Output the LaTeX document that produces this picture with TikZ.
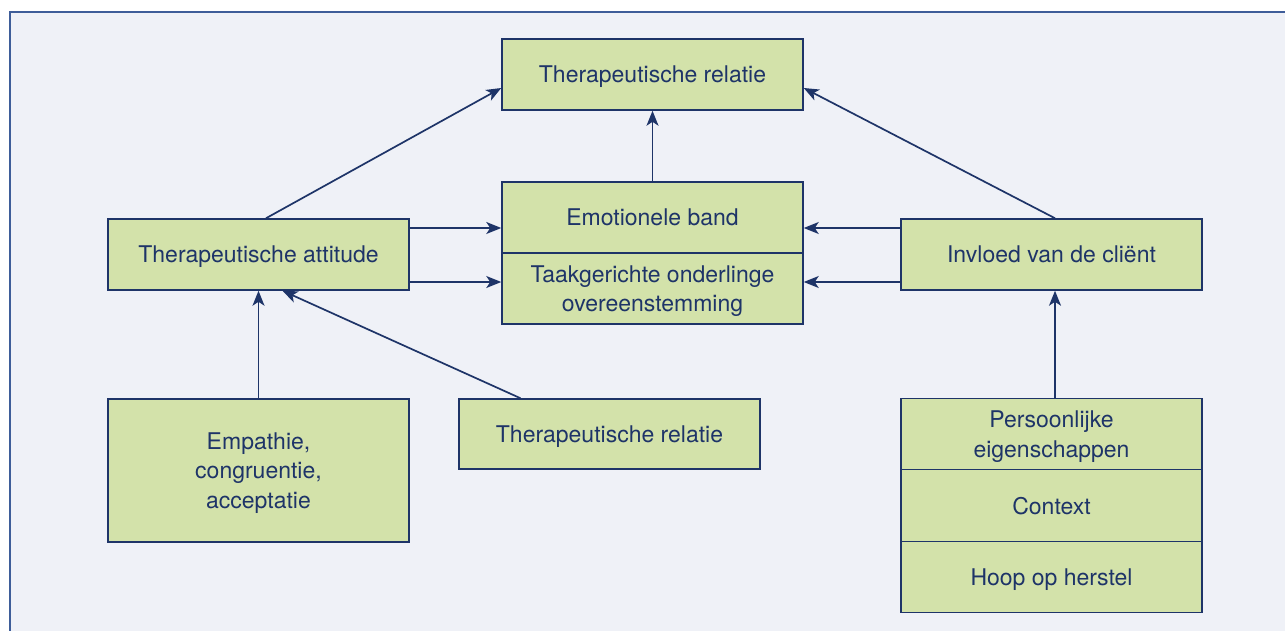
\documentclass[tikz,border=0pt]{standalone}
\usepackage{fontspec}
\setmainfont{TeX Gyre Heros}
\usetikzlibrary{arrows.meta}
\definecolor{bgc}{HTML}{EFF1F7}
\definecolor{boxfill}{HTML}{D3E2AA}
\definecolor{navy}{HTML}{1E3468}
\definecolor{framec}{HTML}{3E5D99}
\begin{document}
\begin{tikzpicture}[x=1pt,y=-1pt,
  box/.style={draw=navy, line width=1.5pt, fill=boxfill, rectangle, inner sep=0pt,
    minimum width=301pt, text=navy, align=center, text depth=0pt,
    font=\fontsize{23}{29.5}\selectfont},
  arr/.style={draw=navy, line width=1.7pt, -{Stealth[length=15pt,width=12pt,inset=4pt]}}]
\useasboundingbox (0,0) rectangle (1285,631);
\fill[white] (0,0) rectangle (1285,631);
\fill[bgc] (10,12) rectangle (1285,631);
\draw[framec, line width=2pt] (10,631) -- (10,12) -- (1285,12);
% nodes
\node[box, minimum height=71pt] (top) at (652.5,74.5) {Therapeutische relatie};
\node[box, minimum height=71pt] (emo) at (652.5,217.5) {Emotionele band};
\node[box, minimum height=71pt] (taak) at (652.5,288.5) {Taakgerichte onderlinge\\overeenstemming};
\node[box, minimum height=71pt] (att) at (258.5,254.5) {Therapeutische attitude};
\node[box, minimum height=71pt] (inv) at (1051.5,254.5) {Invloed van de cliënt};
\node[box, minimum height=143pt] (emp) at (258.5,470.5) {Empathie,\\congruentie,\\acceptatie};
\node[box, minimum height=70pt] (rel2) at (609.5,434) {Therapeutische relatie};
\node[box, minimum height=71pt] (pers) at (1051.5,434) {Persoonlijke\\eigenschappen};
\node[box, minimum height=72pt] (ctx) at (1051.5,505.5) {Context};
\node[box, minimum height=71pt] (hoop) at (1051.5,577) {Hoop op herstel};
% connectors
\draw[arr] ([xshift=7.5pt]att.north) -- ([yshift=-13.5pt]top.west);
\draw[arr] ([xshift=3.5pt]inv.north) -- ([yshift=-13.5pt]top.east);
\draw[arr] (emo.north) -- (top.south);
\draw[arr] ([yshift=26.5pt]att.east) -- ([yshift=26.5pt]att.east -| emo.west);
\draw[arr] ([yshift=-27.5pt]att.east) -- ([yshift=-27.5pt]att.east -| taak.west);
\draw[arr] ([yshift=26.5pt]inv.west) -- ([yshift=26.5pt]inv.west -| emo.east);
\draw[arr] ([yshift=-27.5pt]inv.west) -- ([yshift=-27.5pt]inv.west -| taak.east);
\draw[arr] (emp.north) -- (att.south);
\draw[arr] ([xshift=-89pt]rel2.north) -- ([xshift=24pt]att.south);
\draw[arr] ([xshift=3.5pt]pers.north) -- ([xshift=3.5pt]inv.south);
\end{tikzpicture}
\end{document}
